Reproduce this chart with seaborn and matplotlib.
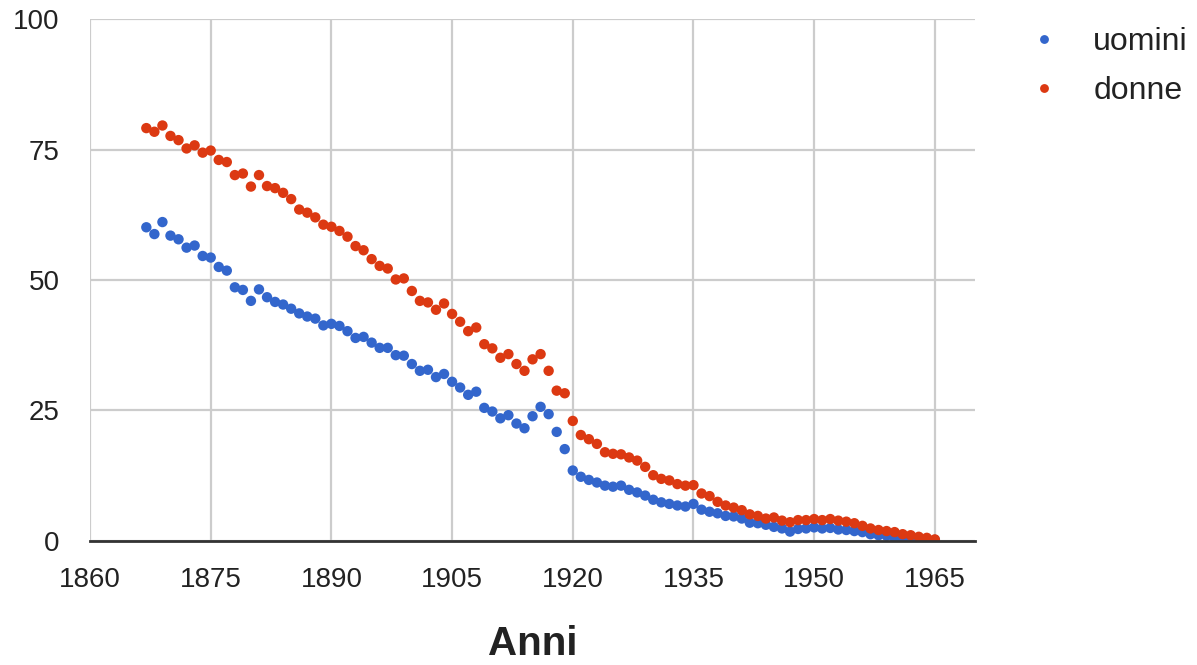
import pandas as pd
import matplotlib
matplotlib.use("Agg")
import matplotlib.pyplot as plt
import seaborn as sns

# =========================
# DATI
# =========================
anni = list(range(1867, 1966))

uomini = [
    60.1, 58.8, 61.1, 58.5, 57.8, 56.2, 56.6, 54.6, 54.3, 52.5,   # 1867-1876
    51.8, 48.6, 48.1, 46.0, 48.2, 46.7, 45.8, 45.3, 44.5, 43.6,   # 1877-1886
    43.0, 42.6, 41.3, 41.6, 41.2, 40.2, 38.9, 39.1, 38.0, 37.0,   # 1887-1896
    37.0, 35.6, 35.5, 33.9, 32.6, 32.8, 31.4, 32.0, 30.5, 29.4,   # 1897-1906
    28.0, 28.6, 25.5, 24.8, 23.5, 24.1, 22.5, 21.6, 23.9, 25.7,   # 1907-1916
    24.3, 20.9, 17.6, 13.5, 12.3, 11.7, 11.2, 10.6, 10.4, 10.6,   # 1917-1926
    9.8, 9.3, 8.7, 7.9, 7.4, 7.1, 6.8, 6.6, 7.1, 6.0,             # 1927-1936
    5.6, 5.3, 4.8, 4.7, 4.3, 3.5, 3.4, 3.1, 2.7, 2.4,             # 1937-1946
    1.8, 2.3, 2.4, 2.6, 2.4, 2.5, 2.2, 2.1, 1.9, 1.7,             # 1947-1956
    1.3, 1.1, 1.0, 0.6, 0.5, 0.4, 0.3, 0.2, 0.2,                  # 1957-1965
]

donne = [
    79.1, 78.4, 79.6, 77.6, 76.8, 75.2, 75.8, 74.4, 74.8, 73.0,   # 1867-1876
    72.6, 70.1, 70.4, 67.9, 70.1, 68.0, 67.6, 66.7, 65.5, 63.5,   # 1877-1886
    62.9, 62.0, 60.6, 60.2, 59.4, 58.3, 56.5, 55.7, 54.0, 52.7,   # 1887-1896
    52.2, 50.1, 50.3, 47.9, 46.0, 45.7, 44.3, 45.5, 43.5, 42.0,   # 1897-1906
    40.2, 40.9, 37.7, 36.9, 35.1, 35.8, 33.9, 32.6, 34.8, 35.8,   # 1907-1916
    32.6, 28.8, 28.3, 23.0, 20.3, 19.5, 18.6, 17.0, 16.7, 16.6,   # 1917-1926
    16.0, 15.4, 14.2, 12.6, 11.9, 11.6, 10.9, 10.6, 10.7, 9.1,    # 1927-1936
    8.6, 7.5, 6.8, 6.4, 5.9, 5.1, 4.8, 4.3, 4.5, 3.9,             # 1937-1946
    3.6, 4.0, 4.0, 4.2, 4.0, 4.2, 3.9, 3.7, 3.4, 2.9,             # 1947-1956
    2.4, 2.1, 1.9, 1.7, 1.3, 1.1, 0.8, 0.6, 0.3,                  # 1957-1965
]

df = pd.DataFrame({"Anni": anni, "uomini": uomini, "donne": donne})
df = df.melt(id_vars="Anni", var_name="serie", value_name="valore")

# =========================
# GRAFICO
# =========================
sns.set_theme(style="white")
plt.rcParams["font.family"] = ["Liberation Sans", "DejaVu Sans"]

fig = plt.figure(figsize=(11.97, 6.65), dpi=100)
ax = fig.add_axes([0.0752, 0.1865, 0.7394, 0.7849])

sns.scatterplot(
    data=df, x="Anni", y="valore", hue="serie",
    palette={"uomini": "#3366CC", "donne": "#DC3912"},
    s=56, linewidth=0, ax=ax, zorder=3,
)

ax.set_xlim(1860, 1970)
ax.set_ylim(0, 100)
ax.set_xticks(range(1860, 1966, 15))
ax.set_yticks([0, 25, 50, 75, 100])
ax.set_axisbelow(True)
ax.grid(True, color="#cccccc", linewidth=1.6)

for side in ["top", "right", "left"]:
    ax.spines[side].set_visible(False)
ax.spines["bottom"].set_color("#333333")
ax.spines["bottom"].set_linewidth(2)
ax.spines["bottom"].set_zorder(4)

ax.tick_params(axis="x", length=0, pad=19, labelsize=20, labelcolor="#222222")
ax.tick_params(axis="y", length=0, pad=22, labelsize=20, labelcolor="#222222")

ax.set_xlabel("Anni", fontsize=29, fontweight="bold", color="#222222", labelpad=23)
ax.set_ylabel("")

ax.legend(
    loc="upper left", bbox_to_anchor=(0.832, 1.003), bbox_transform=fig.transFigure,
    frameon=False, fontsize=23, markerscale=0.85, handletextpad=0.95,
    labelspacing=0.6, handlelength=1.2, title=None, labelcolor="#222222",
)

plt.savefig("out.png", dpi=100)
